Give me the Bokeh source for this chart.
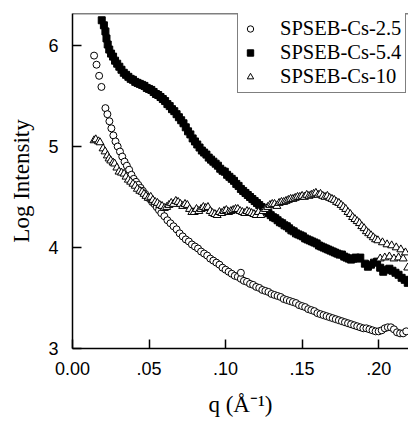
from bokeh.plotting import figure
from bokeh.models import Range1d, FixedTicker, Legend, LegendItem, Span
from bokeh.embed import file_html
from bokeh.resources import INLINE

# ---------------- data ----------------
q_cs25 = [0.0141, 0.0157, 0.0174, 0.0189, 0.0215, 0.0228, 0.0241, 0.0254, 0.0267, 0.0281,
          0.0295, 0.0310, 0.0325, 0.0340, 0.0355, 0.0370, 0.0385, 0.0400, 0.0415, 0.0430,
          0.0445, 0.0460, 0.0475, 0.0490, 0.0505, 0.0520, 0.0535, 0.0550, 0.0565, 0.0580,
          0.0600, 0.0620, 0.0640, 0.0660, 0.0680, 0.0700, 0.0720, 0.0740, 0.0760, 0.0780,
          0.0800, 0.0820, 0.0840, 0.0860, 0.0880, 0.0900, 0.0920, 0.0940, 0.0960, 0.0980,
          0.1000, 0.1020, 0.1040, 0.1060, 0.1080, 0.1100, 0.1100, 0.1120, 0.1140, 0.1160,
          0.1180, 0.1200, 0.1220, 0.1240, 0.1260, 0.1280, 0.1300, 0.1320, 0.1340, 0.1360,
          0.1380, 0.1400, 0.1420, 0.1440, 0.1460, 0.1480, 0.1500, 0.1520, 0.1540, 0.1560,
          0.1580, 0.1600, 0.1620, 0.1640, 0.1660, 0.1680, 0.1700, 0.1720, 0.1740, 0.1760,
          0.1780, 0.1800, 0.1820, 0.1840, 0.1860, 0.1880, 0.1900, 0.1920, 0.1940, 0.1960,
          0.1980, 0.2000, 0.2020, 0.2040, 0.2060, 0.2080, 0.2100, 0.2120, 0.2140, 0.2160,
          0.2180]
v_cs25 = [5.90, 5.81, 5.70, 5.59, 5.38, 5.32, 5.25, 5.18, 5.11, 5.05,
          5.00, 4.95, 4.90, 4.85, 4.81, 4.77, 4.72, 4.68, 4.65, 4.62,
          4.59, 4.56, 4.53, 4.50, 4.48, 4.45, 4.43, 4.40, 4.37, 4.34,
          4.31, 4.27, 4.24, 4.21, 4.18, 4.14, 4.11, 4.08, 4.06, 4.03,
          4.01, 3.99, 3.96, 3.94, 3.92, 3.89, 3.87, 3.85, 3.83, 3.80,
          3.78, 3.76, 3.74, 3.72, 3.71, 3.69, 3.75, 3.67, 3.66, 3.64,
          3.63, 3.61, 3.60, 3.58, 3.57, 3.56, 3.54, 3.53, 3.52, 3.51,
          3.49, 3.48, 3.47, 3.46, 3.45, 3.43, 3.42, 3.41, 3.39, 3.38,
          3.37, 3.35, 3.34, 3.33, 3.32, 3.31, 3.30, 3.29, 3.28, 3.27,
          3.26, 3.25, 3.24, 3.23, 3.22, 3.21, 3.20, 3.20, 3.19, 3.18,
          3.17, 3.17, 3.18, 3.20, 3.21, 3.21, 3.19, 3.16, 3.15, 3.15,
          3.17]

q_cs54 = [0.0191, 0.0205, 0.0215, 0.0222, 0.0230, 0.0240, 0.0252, 0.0265, 0.0278, 0.0292,
          0.0306, 0.0320, 0.0335, 0.0350, 0.0365, 0.0380, 0.0395, 0.0410, 0.0425, 0.0440,
          0.0455, 0.0470, 0.0485, 0.0500, 0.0515, 0.0530, 0.0545, 0.0560, 0.0575, 0.0590,
          0.0605, 0.0620, 0.0635, 0.0650, 0.0665, 0.0680, 0.0695, 0.0710, 0.0725, 0.0740,
          0.0755, 0.0770, 0.0785, 0.0800, 0.0815, 0.0830, 0.0845, 0.0860, 0.0875, 0.0890,
          0.0905, 0.0920, 0.0935, 0.0950, 0.0965, 0.0980, 0.0995, 0.1010, 0.1025, 0.1040,
          0.1055, 0.1070, 0.1085, 0.1100, 0.1115, 0.1130, 0.1145, 0.1160, 0.1175, 0.1190,
          0.1205, 0.1220, 0.1235, 0.1250, 0.1265, 0.1280, 0.1295, 0.1310, 0.1325, 0.1340,
          0.1355, 0.1370, 0.1385, 0.1400, 0.1415, 0.1430, 0.1445, 0.1460, 0.1475, 0.1490,
          0.1505, 0.1520, 0.1535, 0.1550, 0.1565, 0.1580, 0.1595, 0.1610, 0.1625, 0.1640,
          0.1655, 0.1670, 0.1685, 0.1700, 0.1715, 0.1730, 0.1745, 0.1760, 0.1775, 0.1790,
          0.1805, 0.1820, 0.1835, 0.1850, 0.1865, 0.1880, 0.1910, 0.1930, 0.1950, 0.1970,
          0.1990, 0.2010, 0.2030, 0.2050, 0.2070, 0.2090, 0.2110, 0.2130, 0.2150, 0.2170,
          0.2190]
v_cs54 = [6.25, 6.20, 6.14, 6.07, 6.01, 5.96, 5.92, 5.89, 5.85, 5.82,
          5.79, 5.76, 5.73, 5.71, 5.69, 5.67, 5.66, 5.64, 5.63, 5.62,
          5.61, 5.60, 5.58, 5.57, 5.56, 5.54, 5.52, 5.51, 5.49, 5.47,
          5.45, 5.42, 5.40, 5.37, 5.35, 5.32, 5.29, 5.26, 5.23, 5.19,
          5.15, 5.12, 5.08, 5.05, 5.02, 4.99, 4.96, 4.94, 4.92, 4.89,
          4.87, 4.85, 4.83, 4.81, 4.78, 4.76, 4.75, 4.72, 4.70, 4.68,
          4.66, 4.63, 4.61, 4.58, 4.56, 4.54, 4.52, 4.50, 4.48, 4.46,
          4.44, 4.42, 4.40, 4.38, 4.36, 4.34, 4.32, 4.30, 4.29, 4.27,
          4.25, 4.24, 4.22, 4.21, 4.19, 4.17, 4.16, 4.14, 4.13, 4.12,
          4.11, 4.09, 4.08, 4.07, 4.06, 4.05, 4.04, 4.02, 4.01, 4.00,
          3.99, 3.98, 3.97, 3.96, 3.95, 3.94, 3.93, 3.93, 3.91, 3.90,
          3.89, 3.88, 3.89, 3.90, 3.89, 3.90, 3.84, 3.81, 3.83, 3.85,
          3.86, 3.80, 3.76, 3.78, 3.79, 3.77, 3.75, 3.73, 3.70, 3.68,
          3.65]

q_cs10 = [0.0141, 0.0152, 0.0170, 0.0180, 0.0200, 0.0213, 0.0228, 0.0239, 0.0250, 0.0265,
          0.0275, 0.0290, 0.0304, 0.0320, 0.0337, 0.0350, 0.0365, 0.0380, 0.0395, 0.0410,
          0.0424, 0.0440, 0.0455, 0.0467, 0.0480, 0.0495, 0.0511, 0.0525, 0.0540, 0.0555,
          0.0570, 0.0585, 0.0600, 0.0615, 0.0630, 0.0645, 0.0660, 0.0675, 0.0690, 0.0705,
          0.0720, 0.0735, 0.0750, 0.0765, 0.0780, 0.0795, 0.0810, 0.0825, 0.0840, 0.0855,
          0.0870, 0.0885, 0.0900, 0.0915, 0.0930, 0.0945, 0.0960, 0.0975, 0.0990, 0.1005,
          0.1020, 0.1035, 0.1050, 0.1065, 0.1080, 0.1095, 0.1110, 0.1125, 0.1140, 0.1155,
          0.1170, 0.1185, 0.1200, 0.1215, 0.1230, 0.1245, 0.1260, 0.1275, 0.1290, 0.1305,
          0.1320, 0.1335, 0.1350, 0.1365, 0.1380, 0.1395, 0.1410, 0.1425, 0.1440, 0.1455,
          0.1470, 0.1485, 0.1500, 0.1515, 0.1530, 0.1545, 0.1560, 0.1575, 0.1590, 0.1605,
          0.1620, 0.1635, 0.1650, 0.1665, 0.1680, 0.1695, 0.1710, 0.1725, 0.1740, 0.1755,
          0.1770, 0.1785, 0.1800, 0.1815, 0.1830, 0.1845, 0.1860, 0.1875, 0.1890, 0.1905,
          0.1920, 0.1935, 0.1950, 0.1965, 0.1980, 0.1995, 0.2010, 0.2025, 0.2040, 0.2055,
          0.2070, 0.2085, 0.2100, 0.2115, 0.2130, 0.2145, 0.2160, 0.2175, 0.2190]
v_cs10 = [5.06, 5.07, 5.05, 5.04, 4.98, 4.95, 4.91, 4.88, 4.86, 4.84,
          4.83, 4.79, 4.75, 4.74, 4.73, 4.70, 4.67, 4.65, 4.63, 4.61,
          4.58, 4.56, 4.55, 4.53, 4.51, 4.49, 4.50, 4.47, 4.45, 4.44,
          4.42, 4.41, 4.39, 4.40, 4.42, 4.44, 4.43, 4.46, 4.45, 4.43,
          4.41, 4.43, 4.42, 4.38, 4.35, 4.35, 4.38, 4.36, 4.38, 4.40,
          4.39, 4.40, 4.36, 4.34, 4.33, 4.32, 4.35, 4.34, 4.36, 4.37,
          4.35, 4.36, 4.37, 4.38, 4.38, 4.36, 4.35, 4.34, 4.36, 4.35,
          4.34, 4.33, 4.32, 4.35, 4.32, 4.36, 4.38, 4.40, 4.42, 4.43,
          4.43, 4.41, 4.44, 4.45, 4.45, 4.46, 4.47, 4.48, 4.48, 4.49,
          4.50, 4.50, 4.51, 4.50, 4.52, 4.51, 4.52, 4.53, 4.54, 4.52,
          4.53, 4.51, 4.50, 4.51, 4.49, 4.48, 4.47, 4.45, 4.44, 4.42,
          4.40, 4.38, 4.35, 4.33, 4.30, 4.28, 4.26, 4.24, 4.21, 4.19,
          4.16, 4.14, 4.12, 4.10, 4.08, 4.07, 3.89, 4.05, 3.90, 4.03,
          3.91, 4.02, 3.89, 4.00, 3.90, 3.98, 3.89, 3.95, 3.80]

series_labels = ["SPSEB-Cs-2.5", "SPSEB-Cs-5.4", "SPSEB-Cs-10"]
x_ticks = [0.0, 0.05, 0.10, 0.15, 0.20]
x_tick_labels = ["0.00", ".05", ".10", ".15", ".20"]
y_ticks = [3, 4, 5, 6]

# ---------------- figure ----------------
X_END = 0.2195
Y_END = 6.317
p = figure(width=408, height=423, output_backend="svg", toolbar_location=None,
           x_range=Range1d(0, X_END), y_range=Range1d(3, Y_END),
           min_border_left=72, min_border_right=0, min_border_top=13, min_border_bottom=75)
p.outline_line_color = None
p.grid.visible = False
p.background_fill_color = "white"
p.border_fill_color = "white"

r1 = p.scatter(q_cs25, v_cs25, marker="circle", size=7, fill_color="white",
               line_color="black", line_width=1)
r2 = p.scatter(q_cs54, v_cs54, marker="square", size=7, fill_color="black",
               line_color="black", line_width=1)
r3 = p.scatter(q_cs10, v_cs10, marker="triangle", size=8, fill_color="white",
               line_color="black", line_width=1)

# axes
for ax in (p.xaxis[0], p.yaxis[0]):
    ax.axis_line_color = "black"
    ax.axis_line_width = 1.5
    ax.major_tick_in = 9
    ax.major_tick_out = 0
    ax.major_tick_line_width = 1.5
    ax.major_tick_line_color = "black"
    ax.minor_tick_line_color = None
    ax.major_label_text_font = "Liberation Sans"
    ax.major_label_text_font_size = "18px"
    ax.major_label_text_color = "black"

p.xaxis[0].ticker = FixedTicker(ticks=x_ticks)
p.xaxis[0].major_label_overrides = {t: s for t, s in zip(x_ticks, x_tick_labels)}
p.xaxis[0].major_label_standoff = 13
p.xaxis[0].axis_label = "q (Å⁻¹)"
p.xaxis[0].axis_label_text_font = "Liberation Serif"
p.xaxis[0].axis_label_text_font_size = "23px"
p.xaxis[0].axis_label_text_font_style = "normal"
p.xaxis[0].axis_label_text_color = "black"
p.xaxis[0].axis_label_standoff = 14

p.yaxis[0].ticker = FixedTicker(ticks=y_ticks)
p.yaxis[0].major_label_standoff = 14
p.yaxis[0].axis_label = "Log Intensity"
p.yaxis[0].axis_label_text_font = "Liberation Serif"
p.yaxis[0].axis_label_text_font_size = "23px"
p.yaxis[0].axis_label_text_font_style = "normal"
p.yaxis[0].axis_label_text_color = "black"
p.yaxis[0].axis_label_standoff = 11

# top border of the frame
p.add_layout(Span(location=Y_END, dimension="width", line_color="black", line_width=1.5))

legend = Legend(items=[LegendItem(label=series_labels[0], renderers=[r1]),
                       LegendItem(label=series_labels[1], renderers=[r2]),
                       LegendItem(label=series_labels[2], renderers=[r3])],
                location=(165, 255))
legend.label_text_font = "Liberation Serif"
legend.label_text_font_size = "20.5px"
legend.label_text_color = "black"
legend.label_text_baseline = "middle"
legend.padding = 4
legend.spacing = 1
legend.glyph_width = 16
legend.glyph_height = 19
legend.label_height = 19
legend.label_width = 119
legend.label_standoff = 22
legend.margin = 0
legend.border_line_color = "black"
legend.border_line_width = 1
legend.background_fill_color = "white"
legend.background_fill_alpha = 1.0
p.add_layout(legend)

open("out.html", "w").write(file_html(p, INLINE))
